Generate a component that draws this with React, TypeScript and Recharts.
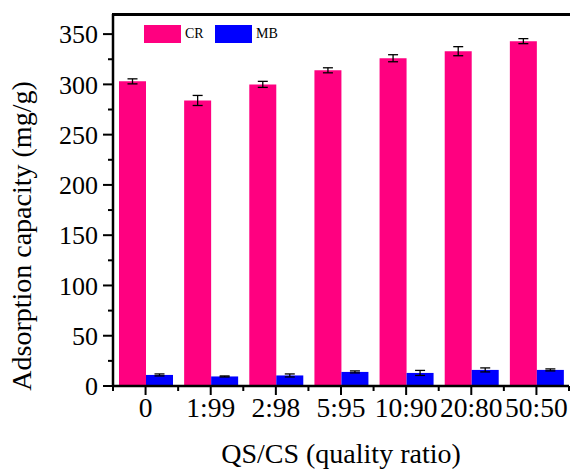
import { BarChart, Bar, XAxis, YAxis, ErrorBar, Text } from 'recharts';

const categories = ['0', '1:99', '2:98', '5:95', '10:90', '20:80', '50:50'];
const crValues = [303, 284, 300, 314, 326, 333, 343];
const crErrors = [2.5, 5, 3, 2.5, 3.5, 4.5, 2.5];
const mbValues = [11, 9.5, 10.5, 14, 13, 16, 16];
const mbErrors = [1, 0.5, 1.5, 1, 2.5, 2, 1];
const yTicks = [0, 25, 50, 75, 100, 125, 150, 175, 200, 225, 250, 275, 300, 325, 350];
const Y_MAX = 370;

const data = categories.map((cat, i) => ({
    cat,
    cr: crValues[i],
    crErr: crErrors[i],
    mb: mbValues[i],
    mbErr: mbErrors[i],
}));

const W = 578;
const H = 473;
const M = { top: 14, right: 9, left: 0, bottom: 0 };
const Y_AXIS_W = 113;
const X_AXIS_H = 87;
const PLOT_W = W - M.left - M.right - Y_AXIS_W;
const FONT = 'Liberation Serif';
const PINK = '#FF0080';
const BLUE = '#0000FF';

const Y_TICK = 10;
const Y_MARGIN = 5;
const X_TICK = 9;
const X_MARGIN = 1;
const bandW = PLOT_W / categories.length;

function YTick(props: any) {
    const { x, y, payload } = props;
    const axisX = x + Y_TICK + Y_MARGIN;
    const major = payload.value % 50 === 0;
    return (
        <g>
            <line x1={axisX - (major ? Y_TICK : 5)} x2={axisX} y1={y} y2={y} stroke="#000" strokeWidth={2} />
            {major && (
                <Text x={x} y={y} textAnchor="end" verticalAnchor="middle" fontSize={26} fontFamily={FONT} fill="#000">
                    {String(payload.value)}
                </Text>
            )}
        </g>
    );
}

function XTick(props: any) {
    const { x, y, payload, index } = props;
    const axisY = y - X_TICK - X_MARGIN;
    return (
        <g>
            <line x1={x} x2={x} y1={axisY} y2={axisY + X_TICK} stroke="#000" strokeWidth={2} />
            <line x1={x + bandW / 2} x2={x + bandW / 2} y1={axisY} y2={axisY + 5} stroke="#000" strokeWidth={2} />
            {index === 0 && (
                <line x1={x - bandW / 2} x2={x - bandW / 2} y1={axisY} y2={axisY + 5} stroke="#000" strokeWidth={2} />
            )}
            <Text x={x} y={y + 1} textAnchor="middle" verticalAnchor="start" fontSize={27.5} fontFamily={FONT} fill="#000">
                {payload.value}
            </Text>
        </g>
    );
}

function Legend() {
    const item = (color: string, label: string, left: number) => (
        <div style={{ position: 'absolute', left, top: 25, display: 'flex', alignItems: 'center' }}>
            <div style={{ width: 37, height: 18, background: color }} />
            <span style={{ marginLeft: 4, fontSize: 14, fontFamily: FONT, color: '#000' }}>{label}</span>
        </div>
    );
    return (
        <>
            {item(PINK, 'CR', 144)}
            {item(BLUE, 'MB', 215)}
        </>
    );
}

export default function App() {
    return (
        <div style={{ position: 'absolute', left: 0, top: 0, width: W, height: H, background: '#fff' }}>
            <BarChart width={W} height={H} data={data} margin={M} barGap={0} barSize={27}>
                <XAxis
                    dataKey="cat"
                    height={X_AXIS_H}
                    tickLine={false}
                    tickSize={X_TICK}
                    tickMargin={X_MARGIN}
                    tick={<XTick />}
                    interval={0}
                    axisLine={{ stroke: '#000', strokeWidth: 2.5 }}
                    label={{
                        value: 'QS/CS (quality ratio)',
                        position: 'insideBottom',
                        offset: 10,
                        fontSize: 28,
                        fontFamily: FONT,
                        fill: '#000',
                    }}
                />
                <YAxis
                    width={Y_AXIS_W}
                    domain={[0, Y_MAX]}
                    ticks={yTicks}
                    interval={0}
                    tickLine={false}
                    tickSize={Y_TICK}
                    tickMargin={Y_MARGIN}
                    tick={<YTick />}
                    axisLine={{ stroke: '#000', strokeWidth: 2.5 }}
                    label={{
                        value: 'Adsorption capacity (mg/g)',
                        angle: -90,
                        position: 'center',
                        dx: -35,
                        dy: 36,
                        fontSize: 28,
                        fontFamily: FONT,
                        fill: '#000',
                    }}
                />
                <YAxis
                    yAxisId="right"
                    orientation="right"
                    width={0}
                    domain={[0, Y_MAX]}
                    tick={false}
                    tickLine={false}
                    axisLine={{ stroke: '#000', strokeWidth: 2.5 }}
                />
                <Bar dataKey="cr" fill={PINK} isAnimationActive={false}>
                    <ErrorBar dataKey="crErr" width={5} stroke="#000" strokeWidth={1.3} />
                </Bar>
                <Bar dataKey="mb" fill={BLUE} isAnimationActive={false}>
                    <ErrorBar dataKey="mbErr" width={5} stroke="#000" strokeWidth={1.3} />
                </Bar>
            </BarChart>
            <div
                style={{
                    position: 'absolute',
                    left: M.left + Y_AXIS_W - 1.25,
                    top: M.top - 1.5,
                    width: PLOT_W + 2.5,
                    height: 3,
                    background: '#000',
                    zIndex: 5,
                }}
            />
            <Legend />
        </div>
    );
}
